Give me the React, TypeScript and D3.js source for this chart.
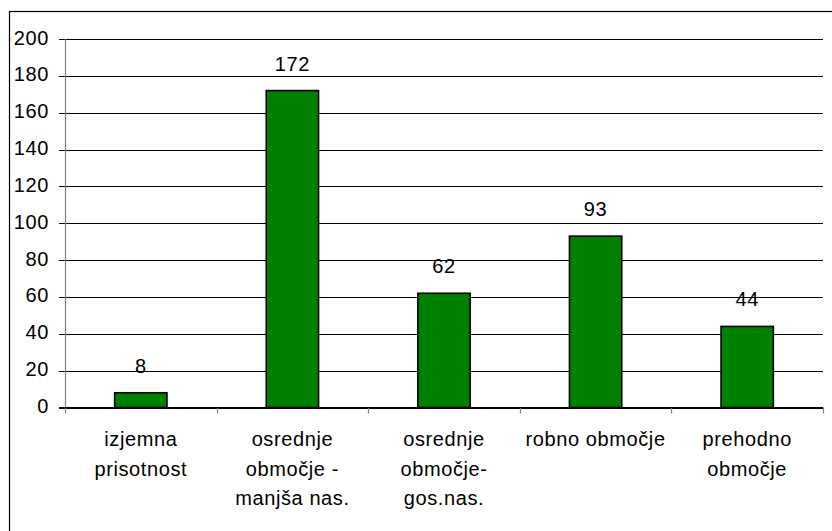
import React from "react";
import * as d3 from "d3";

const categories: string[][] = [
  ["izjemna", "prisotnost"],
  ["osrednje", "območje -", "manjša nas."],
  ["osrednje", "območje-", "gos.nas."],
  ["robno območje"],
  ["prehodno", "območje"],
];
const values: number[] = [8, 172, 62, 93, 44];
const yTicks: number[] = [0, 20, 40, 60, 80, 100, 120, 140, 160, 180, 200];

const W = 832;
const H = 531;
const FONT = "'Liberation Sans', Arial, sans-serif";
const txtStyle = { letterSpacing: "0.6px" } as React.CSSProperties;

export default function App() {
  const keys = categories.map((_, i) => String(i));
  const x = d3.scaleBand<string>().domain(keys).range([65, 823]).padding(0);
  const y = d3.scaleLinear().domain([0, 200]).range([407.5, 39]);
  const bw = x.bandwidth() * 0.345;
  const tickEdges = d3.range(categories.length + 1).map((i) => 65 + i * x.step());

  return (
    <svg
      width={W}
      height={H}
      style={{ position: "fixed", left: 0, top: 0, background: "#fff" }}
      fontFamily={FONT}
    >
      <rect x={0} y={0} width={W} height={H} fill="#fff" />
      {/* outer frame */}
      <rect x={9.5} y={11.5} width={W + 20} height={H + 20} fill="none" stroke="#000" strokeWidth={1.2} />

      {/* gridlines */}
      {yTicks.map((t) => (
        <line key={"g" + t} x1={59} x2={823} y1={Math.round(y(t)) + 0.5} y2={Math.round(y(t)) + 0.5} stroke="#000" strokeWidth={1} />
      ))}
      {/* y axis */}
      <line x1={65.5} x2={65.5} y1={39} y2={407.5} stroke="#808080" strokeWidth={1.2} />
      {/* x ticks */}
      {tickEdges.map((tx, i) => (
        <line key={"xt" + i} x1={Math.round(tx) + 0.5} x2={Math.round(tx) + 0.5} y1={407.5} y2={413.5} stroke="#808080" strokeWidth={1.2} />
      ))}

      {/* bars */}
      {values.map((v, i) => {
        const cx = (x(keys[i]) as number) + x.bandwidth() / 2;
        return (
          <g key={"b" + i}>
            <rect
              x={cx - bw / 2}
              y={y(v)}
              width={bw}
              height={y(0) - y(v)}
              fill="#008000"
              stroke="#000"
              strokeWidth={1.6}
            />
            <text x={cx} y={y(v) - 20} textAnchor="middle" fontSize={20} style={txtStyle} fill="#000">
              {v}
            </text>
          </g>
        );
      })}
      {/* x axis line */}
      <line x1={59} x2={823} y1={407.5} y2={407.5} stroke="#000" strokeWidth={1} />

      {/* y labels */}
      {yTicks.map((t) => (
        <text key={"yl" + t} x={49} y={y(t) + 5.5} textAnchor="end" fontSize={20} style={txtStyle} fill="#000">
          {t}
        </text>
      ))}

      {/* category labels */}
      {categories.map((lines, i) => {
        const cx = (x(keys[i]) as number) + x.bandwidth() / 2;
        return (
          <text key={"c" + i} textAnchor="middle" fontSize={20} style={txtStyle} fill="#000">
            {lines.map((ln, j) => (
              <tspan key={j} x={cx} y={446 + j * 29.5}>
                {ln}
              </tspan>
            ))}
          </text>
        );
      })}
    </svg>
  );
}
